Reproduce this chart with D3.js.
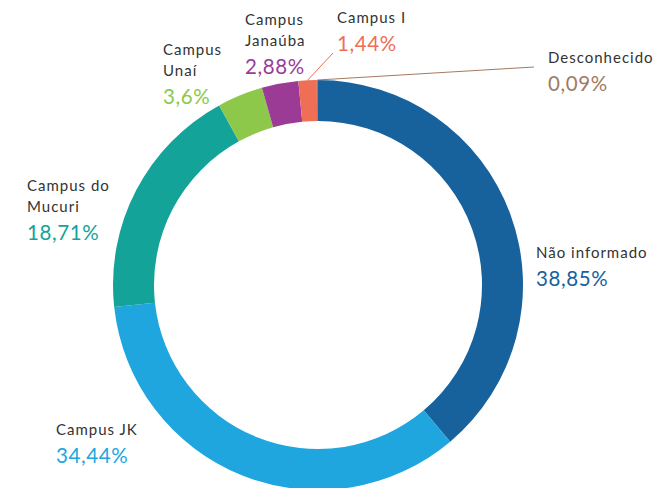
<!DOCTYPE html>
<html>
<head>
<meta charset="utf-8">
<script src="https://cdn.jsdelivr.net/npm/d3@7"></script>
<style>
  body { margin: 0; background: #fff; }
  text { font-family: Lato, "Open Sans", sans-serif; }
</style>
</head>
<body>
<script>
// data
const categories = ["Não informado", "Campus JK", "Campus do Mucuri", "Campus Unaí", "Campus Janaúba", "Campus I", "Desconhecido"];
const values = [38.85, 34.44, 18.71, 3.6, 2.88, 1.44, 0.09];
const valueLabels = ["38,85%", "34,44%", "18,71%", "3,6%", "2,88%", "1,44%", "0,09%"];
const colors = ["#17619d", "#20a6df", "#13a399", "#8dc84a", "#9b3b96", "#ee6e56", "#a37a62"];

// label layout: name lines, x, first baseline
const labelLayout = [
  { lines: ["Não informado"], x: 536, y: 258 },
  { lines: ["Campus JK"], x: 56, y: 435 },
  { lines: ["Campus do", "Mucuri"], x: 27, y: 191 },
  { lines: ["Campus", "Unaí"], x: 163, y: 55 },
  { lines: ["Campus", "Janaúba"], x: 245, y: 25 },
  { lines: ["Campus I"], x: 337, y: 23 },
  { lines: ["Desconhecido"], x: 548, y: 63 }
];
// leader line ends for the tiny slices (index -> end point)
const leaders = { 5: [333, 53], 6: [534, 67] };

const width = 666, height = 488;
const cx = 318, cy = 285, outerR = 205, innerR = 164;

const svg = d3.select("body").append("svg")
  .attr("width", width)
  .attr("height", height);

const data = categories.map((c, i) => ({ name: c, value: values[i], label: valueLabels[i], i: i }));

const pie = d3.pie().sort(null).value(d => d.value);
const arc = d3.arc().innerRadius(innerR).outerRadius(outerR);
const arcs = pie(data);

const g = svg.append("g").attr("transform", `translate(${cx},${cy})`);

g.selectAll("path.slice")
  .data(arcs)
  .enter().append("path")
  .attr("class", "slice")
  .attr("d", arc)
  .attr("fill", d => colors[d.data.i]);

// leader lines from outer edge of small slices
const edge = d3.arc().innerRadius(outerR).outerRadius(outerR);
Object.keys(leaders).forEach(k => {
  const a = arcs[+k];
  const p = edge.centroid(a);
  const end = leaders[k];
  svg.append("line")
    .attr("x1", cx + p[0]).attr("y1", cy + p[1])
    .attr("x2", end[0]).attr("y2", end[1])
    .attr("stroke", colors[+k])
    .attr("stroke-width", 1);
});

// labels
labelLayout.forEach((l, i) => {
  const t = svg.append("g");
  l.lines.forEach((line, j) => {
    t.append("text")
      .attr("x", l.x)
      .attr("y", l.y + j * 20.5)
      .attr("font-size", 15)
      .attr("letter-spacing", 1)
      .attr("fill", "#333")
      .text(line);
  });
  t.append("text")
    .attr("x", l.x)
    .attr("y", l.y + (l.lines.length - 1) * 20.5 + 28)
    .attr("font-size", 20.5)
    .attr("letter-spacing", 0.6)
    .attr("fill", colors[i])
    .text(valueLabels[i]);
});
</script>
</body>
</html>
